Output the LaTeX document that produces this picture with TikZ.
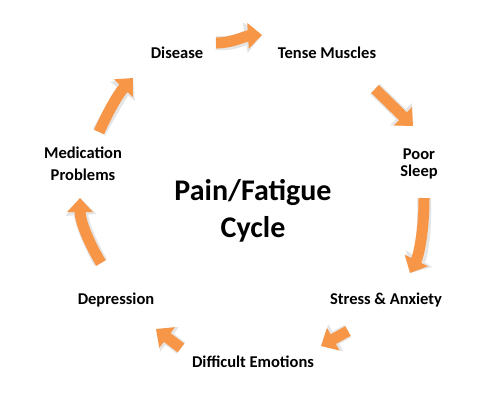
\documentclass[tikz,border=0pt]{standalone}
\usepackage{fontspec}
\setmainfont{Carlito}
\usetikzlibrary{arrows.meta}
\definecolor{arrorange}{RGB}{247,150,70}
\tikzset{
  lbl/.style={font=\bfseries\fontsize{16.5}{22}\selectfont, align=center, inner sep=0pt},
  big/.style={font=\bfseries\fontsize{30}{37}\selectfont, align=center, inner sep=0pt},
  blk/.style={line width=11pt, draw=arrorange, -{Triangle[length=14pt,width=25pt]}},
  blkshadow/.style={line width=14pt, draw=black!10, -{Triangle[length=17pt,width=30pt]}},
}
\begin{document}
\begin{tikzpicture}[x=1pt,y=-1pt]
\useasboundingbox (0,0) rectangle (500,400);
% labels
\node[lbl] (dis) at (177,53) {Disease};
\node[lbl] (ten) at (327,53) {Tense Muscles};
\node[lbl] (poor) at (419,164) {Poor\\[-5pt]Sleep};
\node[lbl] (str) at (386,300) {Stress \& Anxiety};
\node[lbl] (dif) at (253,362) {Difficult Emotions};
\node[lbl] (dep) at (116,300) {Depression};
\node[lbl] (med) at (83,164) {Medication\\Problems};
\node[big] (title) at (253,211) {Pain/Fatigue\\Cycle};
% arrow end points
\coordinate (a1s) at (216,43); \coordinate (a1e) at (262,35);
\coordinate (a2s) at (375,89); \coordinate (a2e) at (413,126);
\coordinate (a3s) at (424,198); \coordinate (a3e) at (410,273);
\coordinate (a4s) at (348,331); \coordinate (a4e) at (321,346);
\coordinate (a5s) at (181,348); \coordinate (a5e) at (156,329);
\coordinate (a6s) at (101,263); \coordinate (a6e) at (80,198);
\coordinate (a7s) at (99,132); \coordinate (a7e) at (133,78);
% shadows
\begin{scope}[shift={(1.5,1.5)}]
\draw[blkshadow] (a1s) .. controls (232,43) and (245,36) .. (a1e);
\draw[blkshadow] (a2s) -- (a2e);
\draw[blkshadow] (a3s) .. controls (424,230) and (419,255) .. (a3e);
\draw[blkshadow] (a4s) -- (a4e);
\draw[blkshadow] (a5s) -- (a5e);
\draw[blkshadow] (a6s) .. controls (90,245) and (80,222) .. (a6e);
\draw[blkshadow] (a7s) .. controls (108,112) and (118,94) .. (a7e);
\end{scope}
% arrows
\draw[blk] (a1s) .. controls (232,43) and (245,36) .. (a1e);
\draw[blk] (a2s) -- (a2e);
\draw[blk] (a3s) .. controls (424,230) and (419,255) .. (a3e);
\draw[blk] (a4s) -- (a4e);
\draw[blk] (a5s) -- (a5e);
\draw[blk] (a6s) .. controls (90,245) and (80,222) .. (a6e);
\draw[blk] (a7s) .. controls (108,112) and (118,94) .. (a7e);
\end{tikzpicture}
\end{document}
